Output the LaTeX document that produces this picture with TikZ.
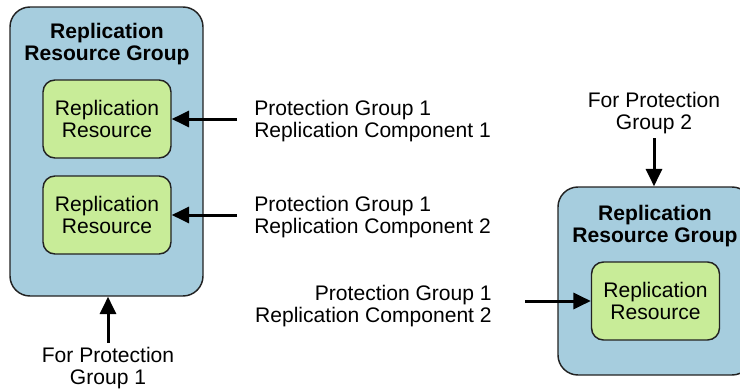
\documentclass[tikz,border=0pt]{standalone}
\usepackage{fontspec}
\setmainfont{Liberation Sans}
\usetikzlibrary{arrows.meta}

\tikzset{
  rgroup/.style={draw={rgb, 255:red, 34; green, 34; blue, 34 }, line width=1.1pt, fill={rgb, 255:red, 166; green, 205; blue, 222 }, rounded corners=15pt, inner sep=0pt},
  rres/.style={draw={rgb, 255:red, 34; green, 34; blue, 34 }, line width=1.1pt, fill={rgb, 255:red, 200; green, 236; blue, 152 }, rounded corners=9pt, minimum width=96pt, minimum height=58.5pt, align=center, inner sep=0pt, font=\fontsize{15.8}{16.5}\selectfont},
  lbl/.style={inner sep=0pt, font=\fontsize{15.8}{16.5}\selectfont},
  arr/.style={line width=2.25pt, -{Triangle[length=13pt, width=12pt]}}
}

\begin{document}
\begin{tikzpicture}[x=0.75pt,y=0.75pt,yscale=-1,xscale=1]
\useasboundingbox (0,0) rectangle (740,389);
\clip (0,0) rectangle (740,389);

%Rounded Rect: left group
\node [rgroup, minimum width=144.75pt, minimum height=216.75pt] (rrg1) at (106.5,151.5) {};
%Rounded Rect: right group
\node [rgroup, minimum width=145.5pt, minimum height=141pt] (rrg2) at (655,281) {};

%Rounded Rect: resources
\node [rres] (rr1) at (107,119) {Replication\\Resource};
\node [rres] (rr2) at (107,215) {Replication\\Resource};
\node [rres] (rr3) at (655.5,301) {Replication\\Resource};

% Text Node
\node [lbl, align=center, font=\fontsize{15.8}{16.5}\selectfont\bfseries] (t1) at (107,44.5) {Replication\\Resource Group};
% Text Node
\node [lbl, align=center, font=\fontsize{15.8}{16.5}\selectfont\bfseries] (t2) at (655,226.5) {Replication\\Resource Group};
% Text Node
\node [lbl, align=left, anchor=west] (l1) at (254,121) {Protection Group 1\\Replication Component 1};
% Text Node
\node [lbl, align=left, anchor=west] (l2) at (254,217) {Protection Group 1\\Replication Component 2};
% Text Node
\node [lbl, align=right, anchor=east] (l3) at (492,306) {Protection Group 1\\Replication Component 2};
% Text Node
\node [lbl, align=center] (fp1) at (108,368) {For Protection\\Group 1};
% Text Node
\node [lbl, align=center] (fp2) at (654,113) {For Protection\\Group 2};

%Arrows
\draw [arr, shorten <=12.75pt] (l1.west |- rr1) -- (rr1.east);
\draw [arr, shorten <=12.75pt] (l2.west |- rr2) -- (rr2.east);
\draw [arr, shorten <=24.75pt] (l3.east |- rr3) -- (rr3.west);
\draw [arr, shorten <=3pt] (fp1.north) -- (fp1.north |- rrg1.south);
\draw [arr, shorten <=3pt] (fp2.south) -- (fp2.south |- rrg2.north);

\end{tikzpicture}
\end{document}
